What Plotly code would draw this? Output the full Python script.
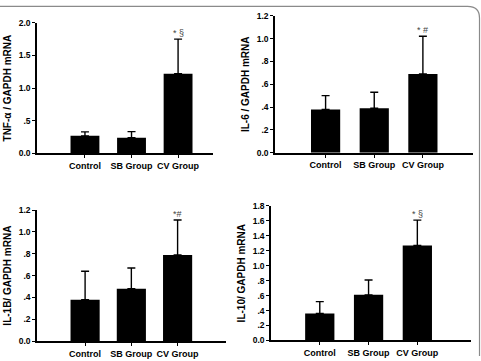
import plotly.graph_objects as go

W, H = 481, 361

categories = ["Control", "SB Group", "CV Group"]

tnf_mean = [0.27, 0.24, 1.22]
tnf_upper = [0.33, 0.335, 1.75]
il6_mean = [0.38, 0.39, 0.69]
il6_upper = [0.50, 0.53, 1.02]
il1b_mean = [0.38, 0.48, 0.79]
il1b_upper = [0.64, 0.67, 1.11]
il10_mean = [0.36, 0.61, 1.27]
il10_upper = [0.52, 0.81, 1.61]

titles = ["TNF-α / GAPDH mRNA", "IL-6 / GAPDH mRNA", "IL-1B/ GAPDH mRNA", "IL-10/ GAPDH mRNA"]
marks = ["* §", "* #", "*#", "* §"]

tnf_ticks = [0, 0.5, 1.0, 1.5, 2.0]
tnf_ticktext = ["0.0", ".5", "1.0", "1.5", "2.0"]
il6_ticks = [0, 0.2, 0.4, 0.6, 0.8, 1.0, 1.2]
il6_ticktext = ["0.0", ".2", ".4", ".6", ".8", "1.0", "1.2"]
il1b_ticks = il6_ticks
il1b_ticktext = il6_ticktext
il10_ticks = [0, 0.2, 0.4, 0.6, 0.8, 1.0, 1.2, 1.4, 1.6, 1.8]
il10_ticktext = ["0.0", ".2", ".4", ".6", ".8", "1.0", "1.2", "1.4", "1.6", "1.8"]

panels = [
    dict(mean=tnf_mean, up=tnf_upper, tv=tnf_ticks, tt=tnf_ticktext,
         px=(37, 213), py=(18.3, 152.7), xr=[-1.03, 2.75], bw=0.62),
    dict(mean=il6_mean, up=il6_upper, tv=il6_ticks, tt=il6_ticktext,
         px=(275, 473), py=(11, 152), xr=[-1.04, 3.03], bw=0.6),
    dict(mean=il1b_mean, up=il1b_upper, tv=il1b_ticks, tt=il1b_ticktext,
         px=(37, 225.7), py=(211, 345.7), xr=[-1.04, 3.04], bw=0.63),
    dict(mean=il10_mean, up=il10_upper, tv=il10_ticks, tt=il10_ticktext,
         px=(271, 471), py=(206.7, 345), xr=[-1.0, 3.1], bw=0.6),
]

fig = go.Figure()
xpos = list(range(len(categories)))
font_family = "Liberation Sans, Arial, sans-serif"

for i, p in enumerate(panels):
    n = "" if i == 0 else str(i + 1)
    err_plus = [u - m for u, m in zip(p["up"], p["mean"])]
    fig.add_trace(go.Bar(
        x=xpos, y=p["mean"], width=p["bw"],
        marker=dict(color="black", line=dict(width=0)),
        error_y=dict(type="data", symmetric=False, array=err_plus,
                     arrayminus=[0] * 3, color="black", thickness=1.4, width=4),
        xaxis="x" + n, yaxis="y" + n, showlegend=False,
    ))
    x0, x1 = p["px"]
    ytop, ybot = p["py"]
    fig.update_layout(**{
        "xaxis" + n: dict(
            domain=[x0 / W, x1 / W], range=p["xr"], anchor="y" + n,
            tickvals=xpos, ticktext=categories, showline=True, linecolor="black",
            linewidth=1.5, ticks="outside", ticklen=3, tickcolor="black",
            showgrid=False, zeroline=False, fixedrange=True,
            tickfont=dict(family=font_family, size=9, color="black", weight="bold"),
        ),
        "yaxis" + n: dict(
            domain=[1 - ybot / H, 1 - ytop / H], range=[0, p["tv"][-1]],
            anchor="x" + n, tickvals=p["tv"], ticktext=p["tt"], showline=True,
            linecolor="black", linewidth=1.5, ticks="outside", ticklen=3,
            tickcolor="black", showgrid=False, zeroline=False, fixedrange=True,
            tickfont=dict(family=font_family, size=8.5, color="black", weight="bold"),
            title=dict(text=titles[i], standoff=5,
                       font=dict(family=font_family, size=10, color="black", weight="bold")),
        ),
    })
    fig.add_annotation(
        x=xpos[2], y=p["up"][2], xref="x" + n, yref="y" + n,
        text=marks[i], showarrow=False, yanchor="bottom", yshift=-1,
        font=dict(family=font_family, size=9, color="#444"),
    )

# frame (top and right edges with rounded corner)
fig.add_shape(
    type="path", xref="paper", yref="paper",
    path="M 0,%.4f L %.4f,%.4f Q %.4f,%.4f %.4f,%.4f L %.4f,0" % (
        1 - 1.5 / H, 1 - 13.5 / W, 1 - 1.5 / H, 1 - 1.5 / W, 1 - 1.5 / H,
        1 - 1.5 / W, 1 - 13.5 / H, 1 - 1.5 / W),
    line=dict(color="#8a8a8a", width=1.2),
)

fig.update_layout(
    width=W, height=H, margin=dict(l=0, r=0, t=0, b=0),
    paper_bgcolor="white", plot_bgcolor="white",
    font=dict(family=font_family),
)

fig.write_html("out.html")
